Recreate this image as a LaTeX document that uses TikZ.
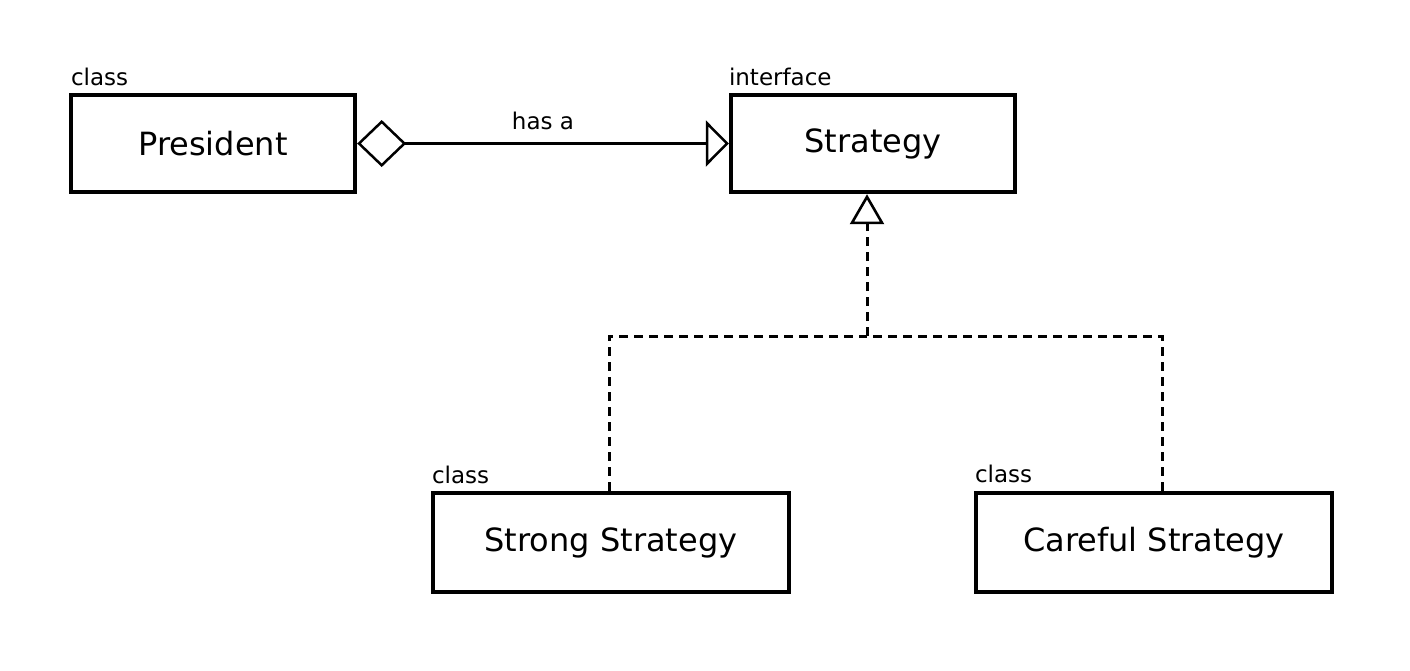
\documentclass[tikz,border=0pt]{standalone}
\usepackage{fontspec}
\setmainfont{DejaVu Sans}
\usetikzlibrary{arrows.meta}

\tikzset{
  umlbox/.style={draw, line width=4.4pt, minimum width=284pt, minimum height=97pt,
                 inner sep=0pt, font=\fontsize{32}{38}\selectfont},
  widebox/.style={umlbox, minimum width=356pt, minimum height=99pt},
  stereo/.style={anchor=south west, inner sep=0pt, font=\fontsize{23}{27}\selectfont},
  hasa/.style={line width=2.5pt, {Diamond[open, length=49pt, width=47pt, line width=2.5pt]}-{Triangle[open, length=23pt, width=46pt, line width=2.5pt]}},
  realize/.style={line width=3pt, dash pattern=on 9pt off 6pt,
                  -{Triangle[open, length=30pt, width=34pt, line width=2.6pt]}}
}

\begin{document}
\begin{tikzpicture}[x=1pt,y=-1pt]
  \useasboundingbox (0,0) rectangle (1410,670);

% classes and interface
  \node[umlbox]  (pres)    at (213,143.5)  {President};
  \node[umlbox]  (strat)   at (873,143.5)  {Strategy};
  \node[widebox] (strong)  at (611,542.5)  {Strong Strategy};
  \node[widebox] (careful) at (1154,542.5) {Careful Strategy};

% stereotype labels
  \node[stereo] (presst)    at ([xshift=2pt,yshift=7pt]pres.north west)    {class};
  \node[stereo] (stratst)   at ([xshift=0pt,yshift=7pt]strat.north west)   {interface};
  \node[stereo] (strongst)  at ([xshift=1pt,yshift=7pt]strong.north west)  {class};
  \node[stereo] (carefulst) at ([xshift=1pt,yshift=8pt]careful.north west) {class};

% aggregation
  \draw[hasa] (pres) -- (strat)
    node[midway, above=12pt, inner sep=0pt, font=\fontsize{23}{27}\selectfont] (hasalbl) {has a};

% realization
  \coordinate (fork) at (867,336);
  \draw[realize, -] ([xshift=-2pt]strong.north) |- (fork);
  \draw[realize, -] ([xshift=8pt]careful.north) |- (fork);
  \draw[realize] (fork) -- (fork |- strat.south);
\end{tikzpicture}
\end{document}
